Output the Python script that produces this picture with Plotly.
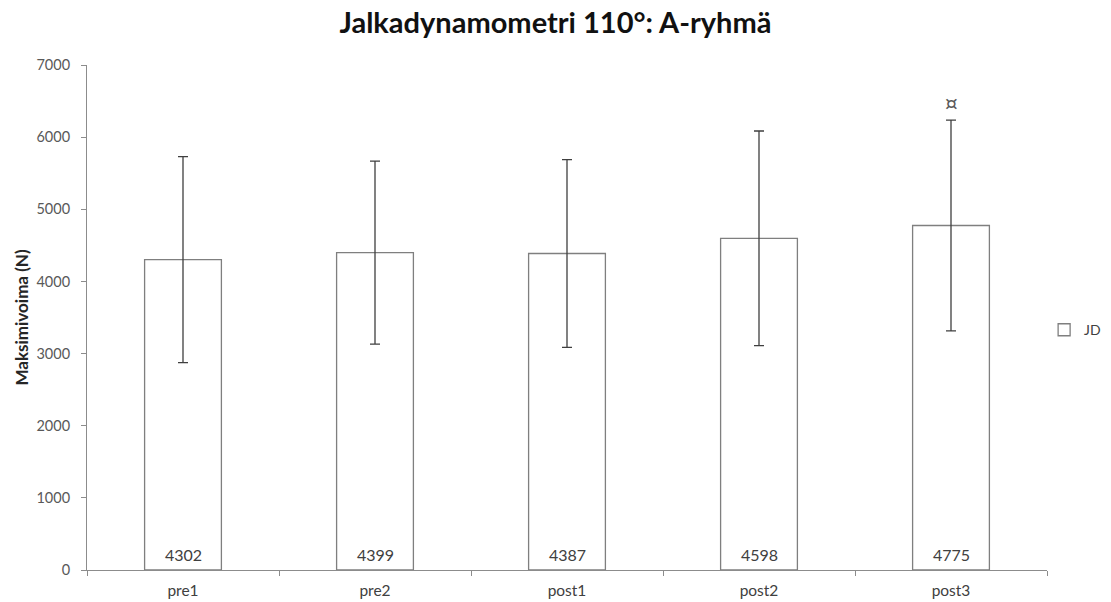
import plotly.graph_objects as go

# Measurement points and mean maximal force (N) with standard deviations
categories = ["pre1", "pre2", "post1", "post2", "post3"]
means = [4302, 4399, 4387, 4598, 4775]
sd = [1428, 1268, 1300, 1487, 1460]

# Significance marker shown above post3
marker_category = "post3"
marker_value = 6474
marker_text = "¤"

y_ticks = [0, 1000, 2000, 3000, 4000, 5000, 6000, 7000]

font_family = "Lato, 'Open Sans', sans-serif"
tick_color = "#595959"
axis_color = "#8c8c8c"

fig = go.Figure()
fig.add_trace(go.Bar(
    x=categories,
    y=means,
    name="JD",
    marker=dict(color="white", line=dict(color="#7f7f7f", width=1.3)),
    error_y=dict(type="data", array=sd, visible=True,
                 color="#3f3f3f", thickness=1.3, width=5),
    showlegend=True,
))

# Mean values printed inside the bars, near the base
for cat, val in zip(categories, means):
    fig.add_annotation(x=cat, y=0, text=str(val), showarrow=False,
                       yanchor="bottom", yshift=4,
                       font=dict(family=font_family, size=16, color="#404040"))

fig.add_annotation(x=marker_category, y=marker_value, text=marker_text,
                   showarrow=False, yanchor="middle",
                   font=dict(family="DejaVu Sans, sans-serif", size=20, color="#595959"))

fig.update_layout(
    width=1111, height=602,
    paper_bgcolor="white", plot_bgcolor="white",
    margin=dict(l=87, r=64, t=65, b=32, autoexpand=False),
    bargap=0.6,
    title=dict(text="<b>Jalkadynamometri 110°: A-ryhmä</b>",
               x=0.5, xanchor="center", y=0.962, yanchor="middle",
               font=dict(family=font_family, size=29, color="#111111")),
    font=dict(family=font_family, size=14, color=tick_color),
    legend=dict(x=0.997, xanchor="left", y=0.475, yanchor="middle",
                bgcolor="rgba(0,0,0,0)", itemwidth=30,
                font=dict(family=font_family, size=14, color="#404040")),
    xaxis=dict(
        showline=True, linecolor=axis_color, linewidth=1,
        ticks="outside", tickson="boundaries", ticklen=5, tickcolor=axis_color,
        showgrid=False, ticklabelstandoff=6,
        tickfont=dict(size=15.5, color="#404040"),
    ),
    yaxis=dict(
        range=[0, 7000], tickvals=y_ticks,
        showline=True, linecolor=axis_color, linewidth=1,
        ticks="outside", ticklen=5, tickcolor=axis_color,
        showgrid=False, zeroline=False, ticklabelstandoff=8,
        tickfont=dict(size=14.5, color=tick_color),
        title=dict(text="<b>Maksimivoima (N)</b>", standoff=3,
                   font=dict(size=17, color="#262626")),
    ),
)

fig.write_html("out.html")
